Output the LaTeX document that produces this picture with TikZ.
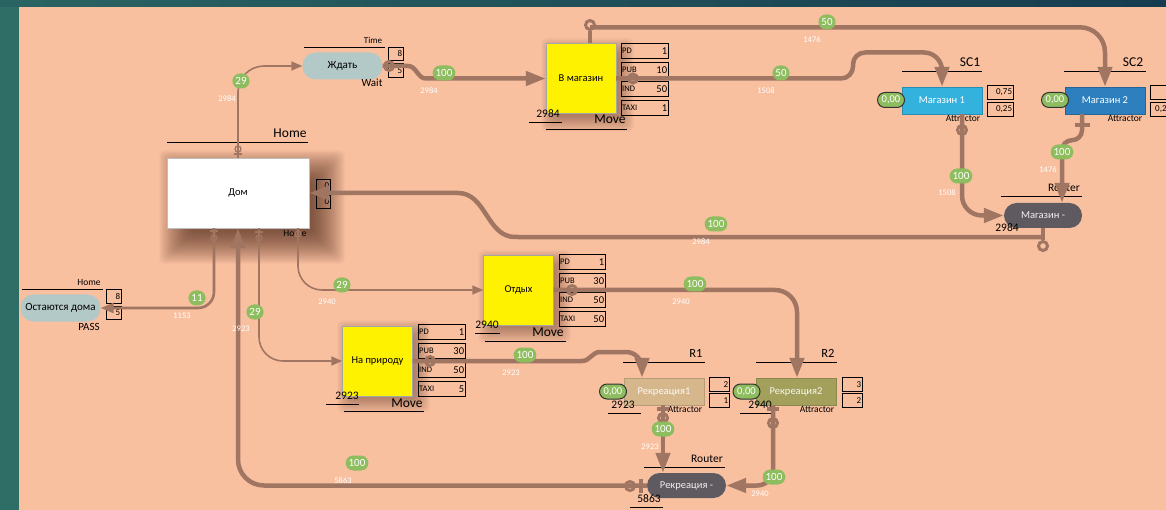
\documentclass[tikz,border=0pt]{standalone}
\usepackage{fontspec}
\setmainfont{Carlito}
\usetikzlibrary{arrows.meta,calc}
\definecolor{bgteal}{RGB}{47,110,103}
\definecolor{bgtop}{RGB}{22,60,80}
\definecolor{peach}{RGB}{249,192,160}
\definecolor{lnc}{RGB}{160,118,98}
\definecolor{pillgrey}{RGB}{179,201,199}
\definecolor{glab}{RGB}{142,189,95}
\definecolor{cyanb}{RGB}{51,178,222}
\definecolor{blueb}{RGB}{46,127,190}
\definecolor{tanb}{RGB}{214,183,140}
\definecolor{oliveb}{RGB}{163,160,92}
\definecolor{routerc}{RGB}{95,90,95}
\definecolor{shadc}{RGB}{70,35,20}
\newcommand\fsz[1]{\fontsize{#1}{#1}\selectfont}
\newcommand\pmrow[6]{%
  \node[pbx, minimum width=#4pt, anchor=north west] (#1) at (#2,#3) {};
  \node[font=\fsz{8.5}, anchor=west, inner sep=1pt] (#1l) at (#1.west) {#5};
  \node[font=\fsz{10.5}, anchor=east, inner sep=1.5pt] (#1v) at (#1.east) {#6};}
\newcommand\smbx[6]{%
  \node[pbx, minimum width=#4pt, minimum height=#5pt, anchor=north west] (#1) at (#2,#3) {};
  \node[font=\fsz{9}, anchor=east, inner sep=1.5pt] (#1v) at (#1.east) {#6};}
% soft shadow: x1,y1,x2,y2 (already offset), step range, opacity per step
\newcommand\softshadow[7]{%
  \foreach \i in {#5,...,#6} {%
    \fill[shadc, fill opacity=#7, rounded corners=5pt] (#1-\i,#2-\i) rectangle (#3+\i,#4+\i);}}
\begin{document}
\begin{tikzpicture}[x=1pt,y=-1pt,
  thinc/.style={draw=lnc, line width=1.6pt, -{Triangle[length=11pt,width=9pt]}},
  medc/.style={draw=lnc, line width=2.6pt, -{Triangle[length=13pt,width=10pt]}},
  thickc/.style={draw=lnc, line width=4.5pt, -{Triangle[length=20pt,width=14pt]}},
  gl/.style={fill=glab, text=white, rounded corners=7.5pt, minimum height=15pt, minimum width=17pt, inner xsep=3pt, inner ysep=0pt, font=\fsz{11}},
  zl/.style={fill=glab, draw=black!80, line width=1pt, text=white, rounded corners=7.5pt, minimum height=15pt, minimum width=27pt, inner sep=0pt, font=\fsz{10.5}},
  wl/.style={text=white, font=\fsz{8.5}, inner sep=0pt},
  pbx/.style={draw=black, line width=0.8pt, minimum height=15pt, inner sep=0pt},
  yb/.style={fill=yellow, draw=gray!70, minimum width=70pt, minimum height=70pt, inner sep=0pt, font=\fsz{10.5}},
  attrb/.style={minimum width=80pt, minimum height=27pt, inner sep=0pt, text=white, font=\fsz{10.5}},
  routerb/.style={rounded corners=12.5pt, fill=routerc, text=white!88!gray, minimum width=78pt, minimum height=25pt, inner sep=0pt, font=\fsz{10.5}},
  pillb/.style={fill=pillgrey, rounded corners=13pt, minimum width=80pt, minimum height=27pt, inner sep=0pt, font=\fsz{11}},
  ttl/.style={inner sep=0pt},
  uline/.style={draw=black, line width=0.9pt},
  tmark/.style={draw=lnc, line width=1.3pt},
  kmark/.style={draw=lnc, line width=3pt}]
\useasboundingbox (0,0) rectangle (1166,510);
% background
\fill[bgteal] (0,0) rectangle (1166,510);
\shade[left color=bgteal!80!bgtop, right color=bgtop] (0,0) rectangle (1166,7);
\fill[peach] (19,7) rectangle (1166,510);

% shadows
\softshadow{183}{174}{321}{240}{-8}{24}{0.026}
\softshadow{553}{50}{622}{120}{-4}{12}{0.028}
\softshadow{490}{262}{559}{331}{-4}{12}{0.028}
\softshadow{349}{332}{418}{401}{-4}{12}{0.028}

% main nodes
\node[fill=white, draw=gray!50, minimum width=142pt, minimum height=70pt, inner sep=0pt, font=\fsz{10.5}] (home) at (238,193) {Дом};
\node[pillb] (wait) at (342.5,66) {Ждать};
\node[pillb, minimum height=27pt] (stay) at (60.5,308) {Остаются дома};
\node[yb] (shop) at (581,78.5) {В магазин};
\node[yb] (rest) at (518.5,290) {Отдых};
\node[yb] (nature) at (377.5,361) {На природу};
\node[attrb, fill=cyanb, draw=cyanb!80!black] (m1) at (942,100.5) {Магазин 1};
\node[attrb, fill=blueb, draw=blueb!80!black] (m2) at (1105,100.5) {Магазин 2};
\node[attrb, fill=tanb, draw=tanb!85!black, text=white!90!tanb] (r1) at (664,391.5) {Рекреация1};
\node[attrb, fill=oliveb, draw=oliveb!85!black, text=white!90!oliveb] (r2) at (796,391.5) {Рекреация2};
\node[routerb] (mr) at (1043,215.5) {Магазин -};
\node[routerb, minimum width=79pt] (rr) at (686.5,485.5) {Рекреация -};

% parameter boxes
\pmrow{spd}{621}{43}{47}{PD}{1}
\pmrow{spub}{621}{62}{47}{PUB}{10}
\pmrow{sind}{621}{81}{47}{IND}{50}
\pmrow{staxi}{621}{100}{47}{TAXI}{1}
\pmrow{rpd}{559}{254}{46}{PD}{1}
\pmrow{rpub}{559}{273}{46}{PUB}{30}
\pmrow{rind}{559}{292}{46}{IND}{50}
\pmrow{rtaxi}{559}{311}{46}{TAXI}{50}
\pmrow{npd}{418}{324}{47}{PD}{1}
\pmrow{npub}{418}{343}{47}{PUB}{30}
\pmrow{nind}{418}{362}{47}{IND}{50}
\pmrow{ntaxi}{418}{381}{47}{TAXI}{5}
\smbx{wa}{388}{47}{15}{13}{8}
\smbx{wb}{388}{63}{15}{14}{5}
\smbx{ha}{316}{179}{14}{13}{0}
\smbx{hb}{316}{195}{14}{13}{0}
\smbx{sa}{106}{289}{15}{14}{8}
\smbx{sb}{106}{306}{15}{13}{5}
\smbx{ma}{987}{85}{26}{14}{0,75}
\smbx{mb}{987}{102}{26}{14}{0,25}
\smbx{na}{1150}{85}{26}{14}{}
\node[pbx, minimum width=26pt, minimum height=14pt, anchor=north west] (nb) at (1150,102) {};
\node[font=\fsz{9}, anchor=west, inner sep=0pt] (nbv) at (1155,109) {0,2};
\smbx{ra}{709}{377}{20}{14}{2}
\smbx{rb}{709}{393}{20}{14}{1}
\smbx{qa}{842}{377}{20}{14}{3}
\smbx{qb}{842}{393}{20}{14}{2}

% titles
\draw[uline] (304,47) -- (385,47);
\node[ttl, font=\fsz{9}] (ttime) at (373,40) {Time};
\node[ttl, font=\fsz{11}] (twait) at (372,83) {Wait};
\draw[uline] (167,142) -- (308,142);
\node[ttl, font=\fsz{13.5}] (thome) at (290,133) {Home};
\node[ttl, font=\fsz{9.5}] (thome2) at (295,233) {Home};
\draw[uline] (22,289) -- (103,289);
\node[ttl, font=\fsz{9.5}] (thome3) at (89,282) {Home};
\node[ttl, font=\fsz{11}] (tpass) at (89,327) {PASS};
\node[ttl, font=\fsz{11.5}] (tsn) at (548,114) {2984};
\draw[uline] (529,122) -- (562,122);
\node[ttl, font=\fsz{13.5}] (tsm) at (610,119) {Move};
\draw[uline] (546,129) -- (627,129);
\node[ttl, font=\fsz{11.5}] (trn) at (487,325) {2940};
\draw[uline] (475,333) -- (500,333);
\node[ttl, font=\fsz{13.5}] (trm) at (548,332) {Move};
\draw[uline] (485,341) -- (566,341);
\node[ttl, font=\fsz{11.5}] (tnn) at (347,396) {2923};
\draw[uline] (326,404) -- (359,404);
\node[ttl, font=\fsz{13.5}] (tnm) at (407,403) {Move};
\draw[uline] (344,411) -- (424,411);
\draw[uline] (902,71) -- (982,71);
\node[ttl, font=\fsz{13.5}] (tsc1) at (970,62) {SC1};
\draw[uline] (1064,71) -- (1146,71);
\node[ttl, font=\fsz{13.5}] (tsc2) at (1133,62) {SC2};
\node[ttl, font=\fsz{9.5}] (ta1) at (963,118) {Attractor};
\node[ttl, font=\fsz{9.5}] (ta2) at (1125,118) {Attractor};
\node[ttl, font=\fsz{9.5}] (ta3) at (685,409) {Attractor};
\node[ttl, font=\fsz{9.5}] (ta4) at (817,409) {Attractor};
\draw[uline] (1001,196) -- (1082,196);
\node[ttl, font=\fsz{11.5}] (trt1) at (1064,188) {Router};
\node[ttl, font=\fsz{11.5}] (tmrn) at (1007,228) {2984};
\draw[uline] (987,237) -- (1020,237);
\draw[uline] (623,362) -- (705,362);
\node[ttl, font=\fsz{12.5}] (tr1) at (696,353) {R1};
\draw[uline] (756,362) -- (837,362);
\node[ttl, font=\fsz{12.5}] (tr2) at (828,353) {R2};
\node[ttl, font=\fsz{11.5}] (tr1n) at (623,405) {2923};
\draw[uline] (608,413) -- (641,413);
\node[ttl, font=\fsz{11.5}] (tr2n) at (760,405) {2940};
\draw[uline] (740,413) -- (773,413);
\draw[uline] (644,467) -- (725,467);
\node[ttl, font=\fsz{11.5}] (trt2) at (707,459) {Router};
\node[ttl, font=\fsz{11.5}] (trrn) at (649,499) {5863};
\draw[uline] (630,507) -- (663,507);

% connectors
\draw[thinc, rounded corners=26pt] (home.north) |- (wait.west);
\draw[thickc] (wait.east) -- (408,66) to[out=0,in=180] (426,78.5) -- (shop.west);
\draw[thickc, rounded corners=25pt] ($(shop.north)+(9,0)$) ++(0,-16) -| (m2.north);
\draw[thickc, rounded corners=12pt] (shop.east) -- (853,78.5) -- (853,52.5) [rounded corners=18pt] -| (m1.north);
\draw[thickc, rounded corners=20pt] ($(m1.south)+(20,0)$) |- (mr.west);
\draw[thickc, rounded corners=10pt] ($(m2.south)+(-23,0)$) -- ++(0,26) -| ($(mr.north)+(19,0)$);
\draw[thickc] ($(mr.south)+(0,9)$) -- (515,237) to[out=180,in=0] (458,193) -- (home.east);
\draw[medc, rounded corners=16pt] ($(home.south)+(-24,0)$) |- (stay.east);
\draw[thickc, rounded corners=26pt] (rr.west) -| (home.south);
\draw[thinc, rounded corners=24pt] ($(home.south)+(21,0)$) |- (nature.west);
\draw[thinc, rounded corners=24pt] ($(home.south)+(60,0)$) |- (rest.west);
\draw[thickc] (nature.east) -- (582,361) to[out=0,in=180] (600,352) [rounded corners=16pt] -| ($(r1.north)+(-22,0)$);
\draw[thickc, rounded corners=22pt] (rest.east) -| ($(r2.north)+(1,0)$);
\coordinate (r1p) at ($(r1.south)+(-1,0)$);
\draw[thickc] (r1p) -- (r1p |- rr.north);
\draw[thickc, rounded corners=16pt] ($(r2.south)+(-23,0)$) |- (rr.east);

% port markers
\draw[tmark] (234,154) -- (242,154);
\draw[tmark] (238,149) circle (3pt);
\draw[tmark] (210,231) -- (218,231);
\draw[tmark] (214,238) circle (3pt);
\draw[tmark] (255,232) -- (263,232);
\draw[tmark] (259,238) circle (3pt);
\draw[tmark] (298,228) -- (298,231);
\draw[tmark] (298,234) circle (3pt);
\draw[kmark] (389,66) circle (4.5pt);
\draw[draw=lnc, line width=4pt] ($(shop.north)+(9,0)$) -- ++(0,-12);
\draw[kmark] (590,25) circle (4.5pt);
\draw[kmark] (633,78.5) circle (4.5pt);
\draw[draw=lnc, line width=3.5pt] ($(m1.south)+(20,0)$) -- ++(0,10);
\draw[kmark] (962,130) circle (4.5pt);
\draw[draw=lnc, line width=3.5pt] (1075,125) -- (1090,125);
\draw[draw=lnc, line width=3.5pt] (mr.south) -- ++(0,12);
\draw[kmark] (1043,246) circle (4.5pt);
\draw[kmark] (430,361) circle (4.5pt);
\draw[kmark] (572,290) circle (4.5pt);
\draw[draw=lnc, line width=3.5pt] (657,409) -- (669,409);
\draw[kmark] (663,418) circle (4.5pt);
\draw[draw=lnc, line width=3.5pt] (767,409) -- (779,409);
\draw[kmark] (773,423) circle (4.5pt);
\draw[kmark] (630,486) circle (4.5pt);
\draw[draw=lnc, line width=3.5pt] (641,479) -- (641,493);

% flow labels
\node[gl] (g1) at (241,81) {29};     \node[wl] (w1) at (227,99) {2984};
\node[gl] (g2) at (444,73) {100};    \node[wl] (w2) at (429,91) {2984};
\node[gl] (g3) at (827,22) {50};     \node[wl] (w3) at (812,40) {1476};
\node[gl] (g4) at (781,73) {50};     \node[wl] (w4) at (766,91) {1508};
\node[gl] (g5) at (961,176) {100};   \node[wl] (w5) at (947,193) {1508};
\node[gl] (g6) at (1062,152) {100};  \node[wl] (w6) at (1048,170) {1476};
\node[gl] (g7) at (716,224) {100};   \node[wl] (w7) at (701,242) {2984};
\node[gl] (g8) at (197,298) {11};    \node[wl] (w8) at (182,316) {1153};
\node[gl] (g9) at (357,463) {100};   \node[wl] (w9) at (343,481) {5863};
\node[gl] (g10) at (255,312) {29};   \node[wl] (w10) at (241,329) {2923};
\node[gl] (g11) at (342,285) {29};   \node[wl] (w11) at (327,302) {2940};
\node[gl] (g12) at (525,355) {100};  \node[wl] (w12) at (511,373) {2923};
\node[gl] (g13) at (695,284) {100};  \node[wl] (w13) at (681,302) {2940};
\node[gl] (g14) at (663,429) {100};  \node[wl] (w14) at (650,447) {2923};
\node[gl] (g15) at (774,477) {100};  \node[wl] (w15) at (760,494) {2940};

\node[zl] (z1) at (891,100) {0,00};
\node[zl] (z2) at (1055,100) {0,00};
\node[zl] (z3) at (613,391.5) {0,00};
\node[zl] (z4) at (746.5,391.5) {0,00};
\end{tikzpicture}
\end{document}
